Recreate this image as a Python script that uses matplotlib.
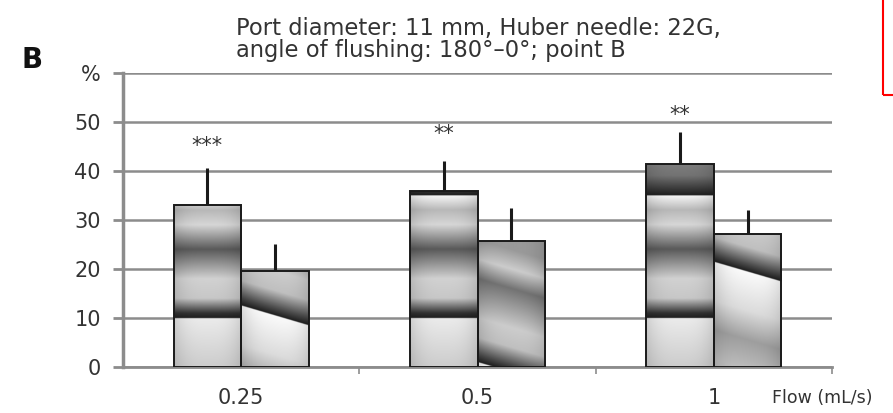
import numpy as np
import matplotlib
matplotlib.use('Agg')
import matplotlib.pyplot as plt
from matplotlib.patches import Rectangle

# Data
flows = ['0.25', '0.5', '1']
series_a = [33.0, 36.0, 41.5]
err_a = [7.6, 6.0, 6.5]
series_b = [19.6, 25.7, 27.1]
err_b = [5.5, 6.7, 4.9]
stars = ['***', '**', '**']
star_y = [45.0, 47.5, 51.5]

plt.rcParams['font.family'] = 'DejaVu Sans'
txt = '#333333'
grid_c = '#8c8c8c'

fig = plt.figure(figsize=(8.93, 4.13), dpi=100)
ax = fig.add_axes([123/893, 46/413, 709/893, 294/413])

x = np.arange(len(flows))
w = 0.286
bars_a = ax.bar(x - w/2, series_a, w, facecolor='none', edgecolor='#1a1a1a', lw=1.4, zorder=4)
bars_b = ax.bar(x + w/2, series_b, w, facecolor='none', edgecolor='#1a1a1a', lw=1.4, zorder=4)

# gradient fills (shading profiles, in y units)
ka = [0, 5, 9.9, 10, 11, 14, 18, 24, 29, 32, 34.9, 35, 36, 39, 45]
va = [0.8, 0.86, 0.92, 0.12, 0.2, 0.78, 0.82, 0.35, 0.84, 0.72, 0.96, 0.12, 0.2, 0.45, 0.55]
kb = [-25, -20, -14, -8, -0.1, 0, 1.5, 5, 9, 17, 21, 25]
vb = [0.74, 0.74, 0.62, 0.86, 0.98, 0.12, 0.3, 0.75, 0.8, 0.45, 0.8, 0.6]
edge_b = [12.5, 1.0, 21.5]
drop = 4.0

def side_shade(u):
    return 1 - 0.12*np.abs(2*u - 1)**3

for i, p in enumerate(bars_a.patches):
    x0, h, bw = p.get_x(), p.get_height(), p.get_width()
    yy = np.linspace(0, h, 500)
    uu = np.linspace(0, 1, 80)
    img = np.interp(yy, ka, va)[:, None] * side_shade(uu)[None, :]
    im = ax.imshow(img, cmap='gray', vmin=0, vmax=1, extent=[x0, x0+bw, 0, h],
                   origin='lower', aspect='auto', zorder=3, interpolation='bilinear')
    im.set_clip_path(p)

for i, p in enumerate(bars_b.patches):
    x0, h, bw = p.get_x(), p.get_height(), p.get_width()
    yy = np.linspace(0, h, 500)
    uu = np.linspace(0, 1, 80)
    d = yy[:, None] - (edge_b[i] - drop*uu[None, :])
    img = np.interp(d, kb, vb) * side_shade(uu)[None, :]
    im = ax.imshow(img, cmap='gray', vmin=0, vmax=1, extent=[x0, x0+bw, 0, h],
                   origin='lower', aspect='auto', zorder=3, interpolation='bilinear')
    im.set_clip_path(p)

# upper error bars only
ax.errorbar(x - w/2, series_a, yerr=[np.zeros(3), err_a], fmt='none', ecolor='#1a1a1a',
            elinewidth=2.2, capsize=0, zorder=2)
ax.errorbar(x + w/2, series_b, yerr=[np.zeros(3), err_b], fmt='none', ecolor='#1a1a1a',
            elinewidth=2.2, capsize=0, zorder=2)

for i in range(len(flows)):
    ax.text(x[i] - w/2, star_y[i], stars[i], ha='center', va='center', fontsize=15, color=txt)

ax.set_xlim(-0.5, 2.5)
ax.set_ylim(0, 60)
ax.set_yticks(range(0, 61, 10))
ax.set_yticklabels(['0', '10', '20', '30', '40', '50', '%'])
ax.get_yticklabels()[-1].set_fontsize(11)
ax.set_xticks(x)
ax.set_xticklabels(flows)
ax.set_xticks([0.5, 1.5, 2.5], minor=True)
ax.tick_params(axis='x', which='major', length=0, pad=15, labelsize=15, labelcolor=txt)
ax.tick_params(axis='x', which='minor', length=5, width=1.2, color=grid_c, direction='out')
ax.tick_params(axis='y', length=7, width=2, color=grid_c, pad=9, labelsize=15, labelcolor=txt)
ax.yaxis.grid(True, color=grid_c, lw=1.8)
ax.set_axisbelow(True)
for s in ['top', 'right']:
    ax.spines[s].set_visible(False)
ax.spines['left'].set_color(grid_c)
ax.spines['left'].set_linewidth(2.5)
ax.spines['bottom'].set_color(grid_c)
ax.spines['bottom'].set_linewidth(2)

fig.text(236/893, 1 - 17/413, 'Port diameter: 11 mm, Huber needle: 22G,\nangle of flushing: 180°–0°; point B',
         ha='left', va='top', fontsize=16.3, color=txt, linespacing=0.95)
fig.text(32/893, 1 - 60/413, 'B', ha='center', va='center', fontsize=20, fontweight='bold', color='#111111')
fig.text(772/893, 1 - 398/413, 'Flow (mL/s)', ha='left', va='center', fontsize=12.5, color=txt)

fig.patches.append(Rectangle((883/893, 1 - 95/413), 0.05, 0.3, transform=fig.transFigure,
                             fill=False, edgecolor='red', lw=1.5))

fig.savefig('out.png', dpi=100)
